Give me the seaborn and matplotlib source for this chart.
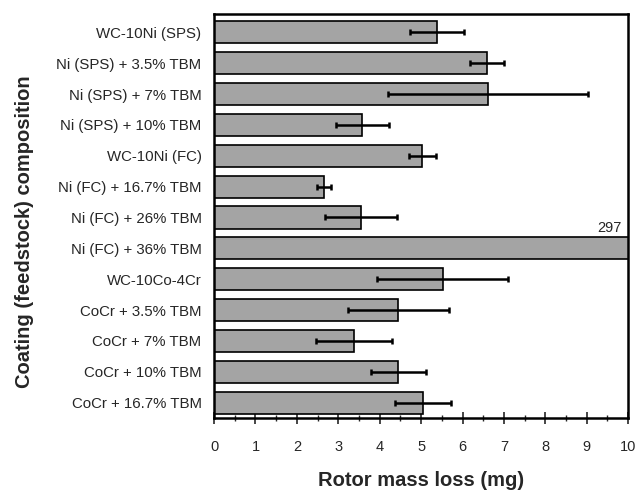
import matplotlib
matplotlib.use("Agg")
import matplotlib.pyplot as plt
import seaborn as sns
import numpy as np
import pandas as pd
from matplotlib.ticker import MultipleLocator

categories = [
    "WC-10Ni (SPS)",
    "Ni (SPS) + 3.5% TBM",
    "Ni (SPS) + 7% TBM",
    "Ni (SPS) + 10% TBM",
    "WC-10Ni (FC)",
    "Ni (FC) + 16.7% TBM",
    "Ni (FC) + 26% TBM",
    "Ni (FC) + 36% TBM",
    "WC-10Co-4Cr",
    "CoCr + 3.5% TBM",
    "CoCr + 7% TBM",
    "CoCr + 10% TBM",
    "CoCr + 16.7% TBM",
]
mass_loss = [5.38, 6.58, 6.62, 3.58, 5.03, 2.65, 3.55, 297, 5.52, 4.45, 3.37, 4.45, 5.05]
errors = [0.66, 0.41, 2.42, 0.64, 0.32, 0.17, 0.87, np.nan, 1.58, 1.22, 0.92, 0.66, 0.68]
xticks = list(range(0, 11))

sns.set_theme(style="white")
plt.rcParams["font.family"] = ["Liberation Sans", "DejaVu Sans"]

df = pd.DataFrame({"composition": categories, "loss": mass_loss, "err": errors})

fig = plt.figure(figsize=(6.39, 4.93), dpi=100)
ax = fig.add_axes([0.335, 0.152, 0.648, 0.82])

sns.barplot(data=df, y="composition", x="loss", orient="h", color="#a4a4a4",
            edgecolor="black", linewidth=1.2, width=0.72, saturation=1,
            errorbar=None, ax=ax)

pos = np.arange(len(categories))
ax.errorbar(df["loss"], pos, xerr=df["err"], fmt="none", ecolor="black",
            elinewidth=1.8, capsize=2.5, capthick=1.8, zorder=5)

ax.set_xlim(0, 10)
ax.set_ylim(len(categories) - 0.5, -0.6)
ax.set_xticks(xticks)
ax.set_xticklabels([str(t) for t in xticks])
ax.xaxis.set_minor_locator(MultipleLocator(0.5))
ax.tick_params(axis="x", which="major", direction="inout", length=8, width=1.2,
               bottom=True, labelsize=10.5, pad=12)
ax.tick_params(axis="x", which="minor", direction="inout", length=5, width=1.0, bottom=True)
ax.tick_params(axis="y", length=0, labelsize=10.8, pad=9)

for s in ax.spines.values():
    s.set_color("black")
    s.set_linewidth(1.8)

idx36 = categories.index("Ni (FC) + 36% TBM")
ax.text(9.85, idx36 - 0.42, "297", ha="right", va="bottom", fontsize=10.5)

ax.set_xlabel("Rotor mass loss (mg)", fontsize=14.5, fontweight="bold", labelpad=12)
ax.set_ylabel("Coating (feedstock) composition", fontsize=14.5, fontweight="bold")
ax.yaxis.set_label_coords(-0.435, 0.46)

fig.savefig("out.png", dpi=100)
